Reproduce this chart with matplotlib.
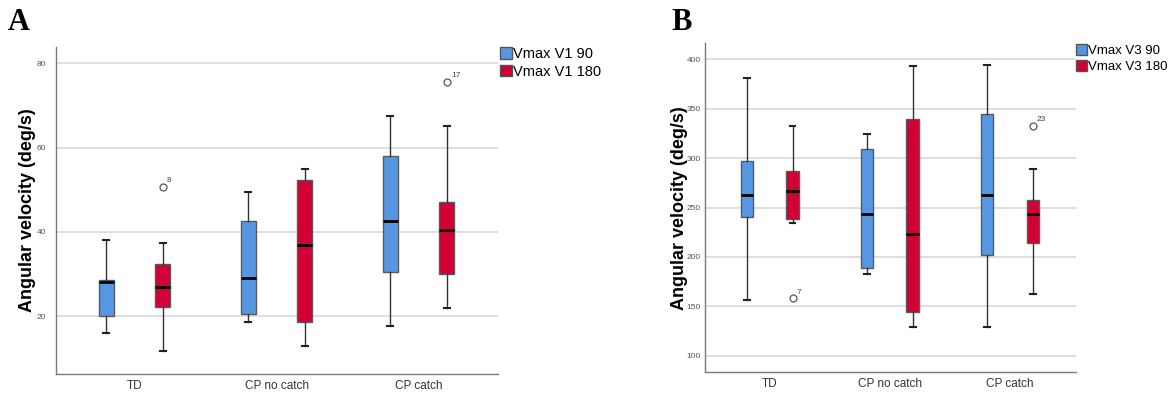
import matplotlib
matplotlib.use("Agg")
import matplotlib.pyplot as plt
from matplotlib.patches import Patch

# ---------------- data ----------------
categories = ["TD", "CP no catch", "CP catch"]

# Panel A: Vmax V1 (deg/s) -> [whislo, q1, med, q3, whishi]
a_v90 = [[16.1, 20.0, 28.0, 28.5, 38.0],
         [18.6, 20.4, 29.0, 42.7, 49.5],
         [17.7, 30.4, 42.6, 58.1, 67.6]]
a_v180 = [[11.8, 22.2, 27.0, 32.4, 37.4],
          [13.0, 18.6, 36.8, 52.3, 54.9],
          [21.9, 29.9, 40.5, 47.2, 65.2]]
a_out90 = [[], [], []]
a_out180 = [[50.7], [], [75.6]]
a_out180_lab = [["8"], [], ["17"]]

# Panel B: Vmax V3 (deg/s)
b_v90 = [[156.7, 240.0, 263.0, 297.4, 381.4],
         [183.0, 188.4, 243.7, 309.2, 324.4],
         [129.3, 201.9, 262.6, 344.6, 393.9]]
b_v180 = [[234.6, 238.3, 267.0, 287.3, 332.8],
          [129.0, 144.5, 222.8, 339.6, 393.2],
          [162.7, 214.0, 243.1, 257.6, 289.3]]
b_out90 = [[], [], []]
b_out180 = [[158.0], [], [332.5]]
b_out180_lab = [["7"], [], ["23"]]

a_yticks = [20, 40, 60, 80]
b_yticks = [100, 150, 200, 250, 300, 350, 400]
a_legend = ["Vmax V1 90", "Vmax V1 180"]
b_legend = ["Vmax V3 90", "Vmax V3 180"]

BLUE = "#5597E3"
RED = "#D20035"
GRID = "#d4d4d4"
SPINE = "#7a7a7a"

W, H = 1171, 394
fig = plt.figure(figsize=(W / 100, H / 100), dpi=100)
plt.rcParams["font.family"] = ["Liberation Sans", "DejaVu Sans"]


def stats(vals, outs):
    res = []
    for v, o in zip(vals, outs):
        res.append(dict(whislo=v[0], q1=v[1], med=v[2], q3=v[3], whishi=v[4], fliers=o))
    return res


def panel(rect, v90, v180, o90, o180, lab180, yticks, ylim, xlim, legend, letter, letter_xy,
          ylab_x, leg_xy, off, bw, ypad, legfs):
    ax = fig.add_axes(rect)
    pos = list(range(len(categories)))
    for vals, outs, col, sgn in [(v90, o90, BLUE, -1), (v180, o180, RED, 1)]:
        ax.bxp(stats(vals, outs), positions=[p + sgn * off for p in pos], widths=bw,
               patch_artist=True, showfliers=True,
               boxprops=dict(facecolor=col, edgecolor="#5a5a5a", linewidth=1.0),
               medianprops=dict(color="black", linewidth=2.0),
               whiskerprops=dict(color="#333333", linewidth=1.0),
               capprops=dict(color="#222222", linewidth=1.5),
               capwidths=bw * 0.45,
               flierprops=dict(marker="o", markerfacecolor="none", markeredgecolor="#555555",
                               markersize=5, markeredgewidth=0.9),
               zorder=3)
    for i, (outs, labs) in enumerate(zip(o180, lab180)):
        for y, t in zip(outs, labs):
            ax.annotate(t, (i + off, y), xytext=(3, 2), textcoords="offset points",
                        fontsize=6, color="#444444", va="bottom", ha="left")
    ax.set_xlim(*xlim)
    ax.set_ylim(*ylim)
    ax.set_yticks(yticks)
    ax.set_yticklabels([str(t) for t in yticks], fontsize=6, color="#555555")
    ax.set_xticks(pos)
    ax.set_xticklabels(categories, fontsize=8.5, color="#333333")
    ax.tick_params(axis="both", length=0, pad=4)
    ax.tick_params(axis="y", pad=ypad)
    ax.yaxis.grid(True, color=GRID, linewidth=1.1, zorder=0)
    ax.set_axisbelow(True)
    for s in ["top", "right"]:
        ax.spines[s].set_visible(False)
    for s in ["left", "bottom"]:
        ax.spines[s].set_color(SPINE)
        ax.spines[s].set_linewidth(1.0)
    fig.text(ylab_x / W, rect[1] + rect[3] / 2, "Angular velocity (deg/s)",
             rotation=90, fontsize=13, fontweight="bold", ha="center", va="center")
    fig.text(letter_xy[0] / W, 1 - letter_xy[1] / H, letter, fontsize=22, fontweight="bold",
             family=["Liberation Serif", "DejaVu Serif"], ha="left", va="center")
    handles = [Patch(facecolor=BLUE, edgecolor="#555555"), Patch(facecolor=RED, edgecolor="#555555")]
    fig.legend(handles, legend, loc="upper left", bbox_to_anchor=(leg_xy[0] / W, 1 - leg_xy[1] / H),
               frameon=False, fontsize=legfs, handlelength=0.85, handleheight=0.85,
               handletextpad=0.05, labelspacing=0.25, borderpad=0, borderaxespad=0)
    return ax


panel([56 / W, 20 / H, 442 / W, 327 / H], a_v90, a_v180, a_out90, a_out180, a_out180_lab,
      a_yticks, (6.25, 83.9), (-0.553, 2.56), a_legend, "A", (8, 23), 28, (500, 47), 0.2, 0.105,
      7, 10.5)
panel([705 / W, 21.7 / H, 371 / W, 329.3 / H], b_v90, b_v180, b_out90, b_out180, b_out180_lab,
      b_yticks, (83.2, 416.5), (-0.54, 2.55), b_legend, "B", (671, 23), 679, (1076, 44), 0.19, 0.104,
      3, 9.5)

fig.savefig("out.png", dpi=100)
